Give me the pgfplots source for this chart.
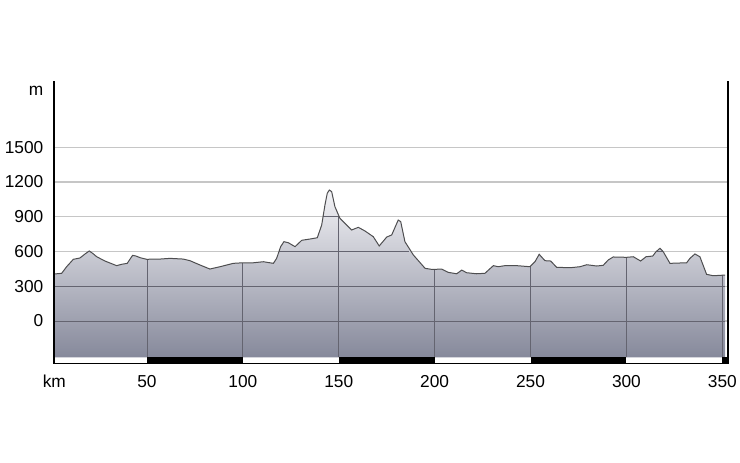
\documentclass[border=0pt]{standalone}
\usepackage{pgfplots}
\pgfplotsset{compat=1.18}
\usepackage{pgfplotstable}
\usepackage{fontspec}
\setmainfont{Liberation Sans}

\definecolor{gridlight}{RGB}{198,198,198}
\definecolor{griddark}{RGB}{100,100,112}
\definecolor{fillTop}{RGB}{243,243,246}
\definecolor{fillBot}{RGB}{134,137,155}
\definecolor{profline}{RGB}{78,78,80}

% elevation profile: km, metres
\pgfplotstableread{
km elev
1.67 406
5.5 412
8.1 469
11.6 533
15 544
17.7 579
19.9 605
21.7 584
23.8 555
28.1 518
34.2 478
36.8 490
39.7 498
41.1 533
42.5 567
44.3 561
46.4 547
49.8 533
56.8 535
62 541
68.9 535
72.4 521
77.6 484
82.8 449
88.1 469
95 498
100.2 503
105.5 503
110.7 512
115.9 498
117.6 541
119.7 642
121.4 685
123.7 676
127.2 642
130.7 697
135 708
138.8 719
141.1 829
142.8 1002
144 1103
145.1 1131
146.3 1117
148 987
150.6 887
153.2 844
156.7 786
160.2 809
163.7 777
168 728
171.1 648
175 725
177.6 743
181 872
182.3 858
184.5 685
188.9 570
195 455
198.4 446
200.2 446
203.6 449
207.1 420
211.5 408
214.1 440
216.7 417
221.9 408
226.2 412
230.6 478
233.2 469
236.6 478
242.8 478
249.7 469
252.3 512
254.5 576
257.5 521
260.5 518
263.6 464
270.6 460
275.8 469
279.3 486
284.5 475
287.9 481
290.5 527
293.1 553
300.1 550
303.6 555
307.4 518
310.2 555
313.7 561
315.4 598
317.5 628
319.2 598
322.7 498
331.4 503
333.1 541
335.7 579
338.3 555
341.8 403
345.3 391
351.5 397
}\profile

\begin{document}
\fontsize{17.3}{21}\selectfont
\begin{tikzpicture}
\path[use as bounding box] (0pt,0pt) rectangle (740pt,463pt);
\begin{axis}[
    at={(54.3pt,99pt)}, anchor=south west,
    scale only axis, width=673.4pt, height=282.5pt,
    xmin=1.67, xmax=352.8, ymin=-371, ymax=2068,
    clip=false,
    no markers,
    axis line style={draw=none},
    xtick={50,100,...,350},
    xticklabels={50,100,150,200,250,300,350},
    extra x ticks={1.67}, extra x tick labels={km},
    ytick={0,300,...,1500},
    yticklabels={0,300,600,900,1200,1500},
    extra y ticks={1990}, extra y tick labels={m},
    extra tick style={grid=none},
    ymajorgrids,
    major grid style={gridlight, line width=1.2pt},
    major tick length=0pt,
    tick label style={font=\fontsize{17.3}{21}\selectfont},
    yticklabel style={xshift=-5pt},
    xticklabel style={yshift=-5.5pt},
]
% shaded terrain
\addplot[draw=none, top color=fillTop, bottom color=fillBot]
    table[x=km, y=elev] {\profile}
    -- (axis cs:351.5,-313) -- (axis cs:1.67,-313) -- cycle;

% grid lines seen through the terrain
\addplot[griddark, line width=1pt] coordinates {(1.67,0) (351.5,0)};
\addplot[griddark, line width=1pt] coordinates {(1.67,300) (351.5,300)};
\addplot[griddark, line width=1pt] coordinates {(118.8,600) (186.5,600)};
\addplot[griddark, line width=1pt] coordinates {(315.5,600) (319,600)};
\addplot[griddark, line width=1pt] coordinates {(141.8,900) (150.2,900)};
\addplot[griddark, line width=0.9pt] coordinates {(50,-313) (50,533)};
\addplot[griddark, line width=0.9pt] coordinates {(100,-313) (100,503)};
\addplot[griddark, line width=0.9pt] coordinates {(150,-313) (150,910)};
\addplot[griddark, line width=0.9pt] coordinates {(200,-313) (200,446)};
\addplot[griddark, line width=0.9pt] coordinates {(250,-313) (250,472)};
\addplot[griddark, line width=0.9pt] coordinates {(300,-313) (300,550)};
\addplot[griddark, line width=0.9pt] coordinates {(350,-313) (350,397)};

% profile line
\addplot[profline, line width=1pt] table[x=km, y=elev] {\profile};

% distance scale bar
\fill[black] (axis cs:50,-371) rectangle (axis cs:100,-313);
\fill[black] (axis cs:150,-371) rectangle (axis cs:200,-313);
\fill[black] (axis cs:250,-371) rectangle (axis cs:300,-313);
\fill[black] (axis cs:350,-371) rectangle (axis cs:352.8,-313);

% frame
\draw[black, line width=1pt] (rel axis cs:0,0) -- (rel axis cs:1,0);
\draw[black, line width=2pt] (rel axis cs:0,0) -- (rel axis cs:0,1);
\draw[black, line width=2pt] (rel axis cs:1,0) -- (rel axis cs:1,1);
\end{axis}
\end{tikzpicture}
\end{document}
